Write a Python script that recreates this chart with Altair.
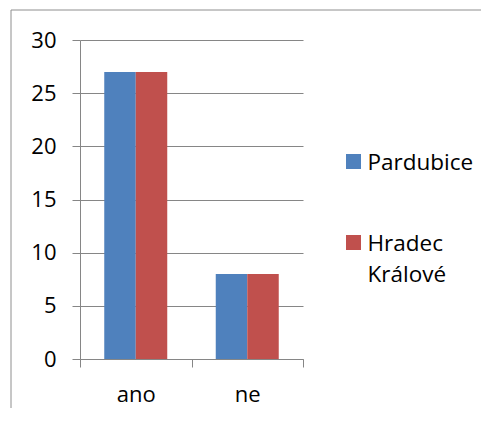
import altair as alt
import pandas as pd

categories = ["ano", "ne"]
series = ["Pardubice", "Hradec Králové"]
pardubice = [27, 8]
hradec = [27, 8]
colors = ["#4F81BD", "#C0504D"]
y_ticks = [0, 5, 10, 15, 20, 25, 30]

rows = []
for i, c in enumerate(categories):
    rows.append({"kategorie": c, "mesto": series[0], "hodnota": pardubice[i]})
    rows.append({"kategorie": c, "mesto": series[1], "hodnota": hradec[i]})
df = pd.DataFrame(rows)

GRAY = "#868686"
FONT = "Open Sans"

bars = alt.Chart(df).mark_bar().encode(
    x=alt.X(
        "kategorie:N",
        sort=categories,
        scale=alt.Scale(paddingInner=0, paddingOuter=0),
        axis=alt.Axis(
            title=None, labelAngle=0, tickBand="extent", grid=False,
            domainColor=GRAY, tickColor=GRAY, tickSize=8,
            labelFont=FONT, labelFontSize=22, labelColor="black",
            labelPadding=17,
        ),
    ),
    xOffset=alt.XOffset(
        "mesto:N", sort=series,
        scale=alt.Scale(paddingInner=0, paddingOuter=0.77),
    ),
    y=alt.Y(
        "hodnota:Q",
        scale=alt.Scale(domain=[0, 30], nice=False),
        axis=alt.Axis(
            title=None, values=y_ticks, grid=True, gridColor=GRAY,
            domainColor=GRAY, tickColor=GRAY, tickSize=8,
            labelFont=FONT, labelFontSize=22, labelColor="black",
            labelPadding=16,
        ),
    ),
    color=alt.Color(
        "mesto:N", sort=series,
        scale=alt.Scale(domain=series, range=colors),
        legend=None,
    ),
)

one = pd.DataFrame({"b": [0]})

border = alt.Chart(one).mark_rect(
    fill=None, stroke="#8E8E8E", strokeWidth=1
).encode(
    x=alt.value(-69), x2=alt.value(600), y=alt.value(-30), y2=alt.value(500)
)

# legend (drawn as marks)
leg_sq1 = alt.Chart(one).mark_square(size=225, opacity=1, color=colors[0]).encode(
    x=alt.value(273.5), y=alt.value(121.5)
)
leg_tx1 = alt.Chart(one).mark_text(
    align="left", baseline="alphabetic", font=FONT, fontSize=22.5, color="black"
).encode(x=alt.value(287.5), y=alt.value(129.5), text=alt.value(series[0]))

leg_sq2 = alt.Chart(one).mark_square(size=225, opacity=1, color=colors[1]).encode(
    x=alt.value(273.5), y=alt.value(202.5)
)
leg_tx2 = alt.Chart(one).mark_text(
    align="left", baseline="alphabetic", font=FONT, fontSize=22.5, color="black",
    lineHeight=31,
).encode(x=alt.value(287.5), y=alt.value(210.5), text=alt.value(series[1].split(" ")))

chart = alt.layer(border, bars, leg_sq1, leg_tx1, leg_sq2, leg_tx2).properties(
    width=223, height=319,
    autosize=alt.AutoSizeParams(type="none"),
    padding={"left": 72, "top": 32, "right": 178, "bottom": 49},
    background="white",
).configure_view(stroke=None)

chart.save("out.html", embed_options={"renderer": "svg", "actions": False})
